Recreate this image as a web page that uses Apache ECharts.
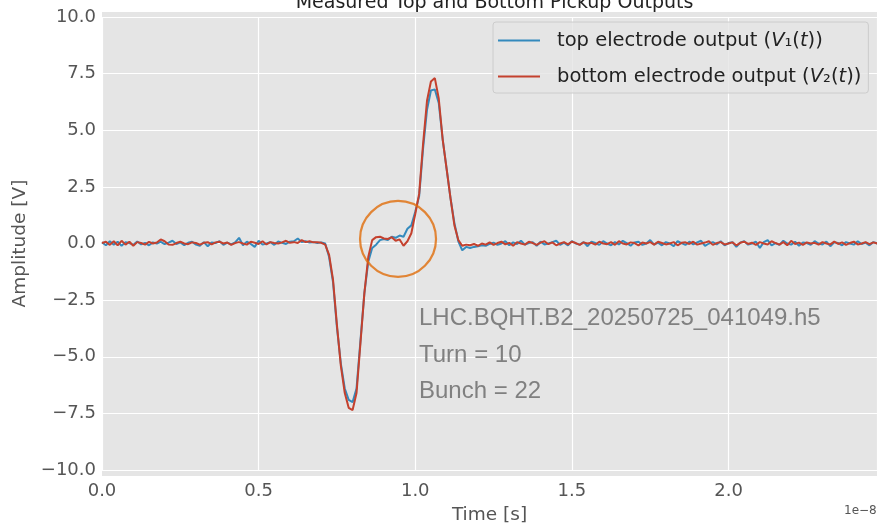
<!DOCTYPE html>
<html>
<head>
<meta charset="utf-8">
<script src="https://cdn.jsdelivr.net/npm/echarts@6/dist/echarts.min.js"></script>
<style>
html,body{margin:0;padding:0;background:#fff;}
#chart{width:877px;height:525px;}
</style>
</head>
<body>
<div id="chart"></div>
<script>
// ---- data (time in units of 1e-8 s, amplitude in V) ----
const sampleStep = 0.0125;
const seriesNames = ['top electrode output (V1(t))', 'bottom electrode output (V2(t))'];
const titleText = 'Measured Top and Bottom Pickup Outputs';
const xTicks = [0.0, 0.5, 1.0, 1.5, 2.0];
const yTicks = [-10.0, -7.5, -5.0, -2.5, 0.0, 2.5, 5.0, 7.5, 10.0];
const annotationLines = ['LHC.BQHT.B2_20250725_041049.h5', 'Turn = 10', 'Bunch = 22'];
const circleCenter = [0.945, 0.2];

// segment start times
const preStart = 0.0, pulseStart = 0.7125, postStart = 1.175;

const v1Pre = [0.05,-0.08,0.10,-0.05,0.08,-0.10,0.06,0.02,-0.06,0.09,-0.04,0.03,-0.08,0.05,0.00,0.07,-0.03,0.04,0.12,-0.02,
  0.05,-0.07,0.03,0.08,-0.05,-0.10,0.06,-0.12,0.04,0.02,0.10,-0.06,0.04,-0.04,0.05,0.25,-0.08,0.08,-0.02,-0.15,
  0.12,-0.05,0.00,0.06,-0.06,0.09,0.03,-0.02,0.08,0.10,0.22,0.06,0.10,0.04,0.06,0.02,0.05];
const v1Pulse = [0.0,-0.6,-1.7,-3.7,-5.3,-6.4,-6.9,-7.0,-6.4,-4.3,-2.2,-0.8,-0.2,-0.05,0.15,0.2,0.15,0.3,0.25,0.35,
  0.3,0.65,0.8,1.4,2.1,4.2,5.9,6.75,6.8,6.2,4.6,3.3,2.0,0.9,0.1,-0.3,-0.15];
const v1Post = [-0.20,-0.15,-0.12,-0.08,-0.10,-0.02,0.04,-0.06,0.00,0.10,-0.08,0.05,-0.02,0.12,-0.05,0.02,0.06,-0.10,0.08,-0.04,
  0.00,0.06,0.12,-0.06,0.04,-0.08,0.10,0.00,-0.05,0.06,-0.12,0.08,0.02,-0.06,0.10,0.00,-0.08,0.06,-0.04,0.12,
  0.02,-0.10,0.05,0.08,-0.06,0.00,0.15,-0.05,0.04,-0.08,0.06,0.00,-0.12,0.10,0.02,-0.06,0.08,-0.04,0.05,0.12,
  -0.10,0.00,0.06,-0.04,0.10,-0.08,0.02,0.06,-0.15,0.04,0.10,-0.05,0.00,0.08,-0.20,0.06,0.15,-0.08,0.02,-0.06,
  0.12,0.00,-0.05,0.08,-0.10,0.04,0.02,-0.06,0.10,0.00,-0.04,0.08,-0.12,0.05,0.02,-0.08,0.06,0.00,-0.05,0.10,
  -0.02,0.04,-0.08,0.06,0.00,-0.04,0.02];

const v2Pre = [0.02,0.08,-0.06,0.10,-0.08,0.12,-0.05,0.08,-0.10,0.06,0.02,-0.05,0.07,0.00,0.04,0.18,0.10,-0.04,-0.06,0.02,
  0.08,0.00,-0.03,0.05,0.02,-0.05,0.03,0.06,-0.04,0.05,0.08,0.00,0.04,-0.06,0.02,0.06,0.00,-0.05,0.08,0.03,
  -0.02,0.10,-0.04,0.06,0.02,0.00,0.05,0.12,0.03,0.06,0.02,0.15,0.06,0.10,0.05,0.06,0.03];
const v2Pulse = [-0.05,-0.5,-1.6,-3.6,-5.4,-6.6,-7.25,-7.35,-6.6,-4.4,-2.2,-0.6,0.15,0.28,0.3,0.22,0.2,0.28,0.12,0.18,
  -0.1,0.1,0.45,1.3,2.2,4.4,6.3,7.15,7.3,6.4,4.6,3.3,2.0,0.8,0.15,-0.1,-0.05];
const v2Post = [-0.08,-0.02,-0.10,0.00,-0.05,0.05,-0.06,0.02,0.08,-0.04,0.03,-0.10,0.06,0.00,-0.05,0.08,0.02,-0.06,0.04,0.10,
  -0.03,0.05,-0.08,0.00,0.06,-0.04,0.08,0.02,-0.06,0.05,0.00,0.03,-0.05,0.08,0.00,-0.03,0.06,-0.06,0.10,0.00,
  -0.04,0.05,0.02,-0.08,0.04,0.00,0.06,-0.05,0.08,0.02,-0.04,0.00,0.06,-0.08,0.03,0.05,-0.02,0.08,-0.05,0.00,
  0.04,0.10,-0.06,0.02,0.06,-0.04,0.00,0.05,-0.08,0.03,0.08,-0.02,0.04,-0.06,0.06,0.00,-0.04,0.10,0.02,-0.05,
  0.06,-0.08,0.12,-0.02,0.04,-0.06,0.05,0.00,0.03,-0.05,0.06,0.00,-0.04,0.08,-0.02,0.05,-0.06,0.02,0.08,-0.04,
  0.00,0.06,-0.03,0.05,0.00,-0.05,0.04];

// ---- build [t, v] pairs from segments ----
function seg(start, vals) { return vals.map((v, i) => [+(start + i * sampleStep).toFixed(5), v]); }
const v1Data = seg(preStart, v1Pre).concat(seg(pulseStart, v1Pulse), seg(postStart, v1Post));
const v2Data = seg(preStart, v2Pre).concat(seg(pulseStart, v2Pulse), seg(postStart, v2Post));

const chart = echarts.init(document.getElementById('chart'), null, {renderer: 'canvas'});
const TICK_FONT = 'DejaVu Sans';
const GRAY = '#555555';
const LEG_FS = 19.5;

function legendFmt(name) {
  const sub = name === seriesNames[0] ? '\u2081' : '\u2082';
  const head = name === seriesNames[0] ? 'top electrode output (' : 'bottom electrode output (';
  return '{n|' + head + '}{i|V}{n|' + sub + '(}{i|t}{n|))}';
}

const option = {
  animation: false,
  backgroundColor: '#ffffff',
  title: {
    text: titleText,
    left: 489.5,
    textAlign: 'center',
    top: -11,
    textStyle: {fontFamily: TICK_FONT, fontSize: 19, fontWeight: 'normal', color: '#222222'}
  },
  graphic: [
    {type: 'rect', z: -10, silent: true, shape: {x: 102, y: 12, width: 775, height: 464}, style: {fill: '#e5e5e5'}},
    {type: 'text', left: 419, top: 306, style: {text: annotationLines[0], font: '24px "Liberation Sans"', fill: '#808080'}, z: 20},
    {type: 'text', left: 419, top: 343, style: {text: annotationLines[1], font: '24px "Liberation Sans"', fill: '#808080'}, z: 20},
    {type: 'text', left: 419, top: 379, style: {text: annotationLines[2], font: '24px "Liberation Sans"', fill: '#808080'}, z: 20},
    {type: 'text', left: 844, top: 505, style: {text: '1e\u22128', font: '12px "DejaVu Sans"', fill: GRAY}}
  ],
  grid: {left: 102, right: 0, top: 16.9, bottom: 54.9, containLabel: false, outerBoundsMode: 'none'},
  legend: {
    data: seriesNames,
    orient: 'vertical',
    left: 493,
    top: 22,
    icon: 'rect',
    itemWidth: 42,
    itemHeight: 2,
    itemGap: 13,
    padding: [7, 7, 5, 5],
    backgroundColor: 'rgba(229,229,229,0.8)',
    borderColor: '#cccccc',
    borderWidth: 1,
    borderRadius: 3,
    formatter: legendFmt,
    textStyle: {
      fontFamily: TICK_FONT, fontSize: LEG_FS, lineHeight: 23, color: '#222222', padding: [0, 0, 0, 12],
      rich: {
        n: {fontFamily: TICK_FONT, fontSize: LEG_FS, lineHeight: 23, color: '#222222'},
        i: {fontFamily: TICK_FONT, fontSize: LEG_FS, lineHeight: 23, fontStyle: 'italic', color: '#222222'}
      }
    }
  },
  xAxis: {
    type: 'value',
    min: 0,
    max: 2.474,
    interval: 0.5,
    name: 'Time [s]',
    nameLocation: 'middle',
    nameGap: 36,
    nameTextStyle: {fontFamily: TICK_FONT, fontSize: 18.5, color: GRAY},
    axisLine: {show: false},
    axisTick: {show: false},
    axisLabel: {
      margin: 12, fontFamily: TICK_FONT, fontSize: 18, color: GRAY, showMaxLabel: false,
      formatter: v => (xTicks.some(t => Math.abs(t - v) < 1e-9) ? v.toFixed(1) : '')
    },
    splitLine: {show: true, lineStyle: {color: '#ffffff', width: 1.2}}
  },
  yAxis: {
    type: 'value',
    min: -10,
    max: 10,
    interval: 2.5,
    name: 'Amplitude [V]',
    nameLocation: 'middle',
    nameGap: 72,
    nameRotate: 90,
    nameTextStyle: {fontFamily: TICK_FONT, fontSize: 18.5, color: GRAY},
    axisLine: {show: false},
    axisTick: {show: false},
    axisLabel: {
      margin: 6, fontFamily: TICK_FONT, fontSize: 18, color: GRAY,
      formatter: v => (yTicks.some(t => Math.abs(t - v) < 1e-9) ? (v < 0 ? '\u2212' + Math.abs(v).toFixed(1) : v.toFixed(1)) : '')
    },
    splitLine: {show: true, lineStyle: {color: '#ffffff', width: 1.2}}
  },
  series: [
    {
      name: seriesNames[0], type: 'line', data: v1Data, symbol: 'none', showSymbol: false,
      lineStyle: {color: '#348abd', width: 2}, itemStyle: {color: '#348abd'}, z: 3
    },
    {
      name: seriesNames[1], type: 'line', data: v2Data, symbol: 'none', showSymbol: false,
      lineStyle: {color: '#c4412e', width: 2}, itemStyle: {color: '#c4412e'}, z: 4
    },
    {
      name: 'marker', type: 'scatter', data: [circleCenter], symbol: 'circle', symbolSize: 76,
      itemStyle: {color: 'rgba(0,0,0,0)', borderColor: '#e06d0a', borderWidth: 2.2}, z: 5, silent: true
    }
  ]
};
chart.setOption(option);
</script>
</body>
</html>
